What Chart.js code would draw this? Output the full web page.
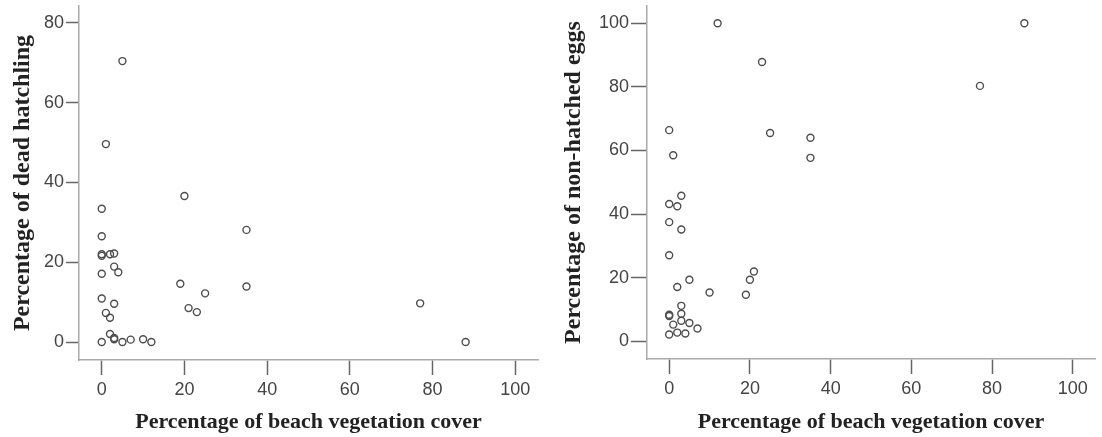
<!DOCTYPE html>
<html>
<head>
<meta charset="utf-8">
<script src="https://cdn.jsdelivr.net/npm/chart.js@4"></script>
<style>
  html, body { margin: 0; padding: 0; background: #fff; overflow: hidden; }
  .panel { position: absolute; top: 0; height: 437px; }
  #leftPanel { left: 0; width: 551px; }
  #rightPanel { left: 551px; width: 551px; }
</style>
</head>
<body>
<div class="panel" id="leftPanel"><canvas id="deadChart"></canvas></div>
<div class="panel" id="rightPanel"><canvas id="eggChart"></canvas></div>
<script>
// Left panel: vegetation cover vs dead hatchlings
const coverDead = [0, 0, 0, 0, 2, 3, 3, 4, 0, 0, 3, 1, 2, 2, 3, 3, 0, 5, 7, 10, 12, 20, 19, 21, 23, 25, 35, 35, 5, 1, 77, 88];
const deadHatchling = [33.4, 26.5, 22, 21.6, 22, 22.2, 18.9, 17.5, 17.1, 10.9, 9.6, 7.3, 6.1, 2, 0.7, 1, 0, 0, 0.6, 0.7, 0, 36.6, 14.6, 8.5, 7.5, 12.2, 28.1, 13.9, 70.4, 49.6, 9.7, 0];

// Right panel: vegetation cover vs non-hatched eggs
const coverEggs = [12, 23, 0, 1, 25, 35, 35, 3, 0, 2, 0, 3, 0, 5, 2, 10, 19, 20, 21, 3, 0, 0, 3, 3, 1, 5, 7, 0, 2, 4, 88, 77];
const nonHatched = [100, 87.8, 66.4, 58.5, 65.5, 64, 57.7, 45.8, 43.2, 42.5, 37.5, 35.2, 27.1, 19.4, 17.1, 15.4, 14.7, 19.4, 22, 11.2, 8.4, 8, 8.7, 6.5, 5.3, 5.8, 4.1, 2.2, 2.8, 2.5, 100, 80.3];

const xTicks = [0, 20, 40, 60, 80, 100];

const tickFont = { family: "'Liberation Sans', Arial, sans-serif", size: 18 };
const titleFontX = { family: "'Liberation Serif', 'Times New Roman', serif", size: 22, weight: 'bold' };
const titleFontY = { family: "'Liberation Serif', 'Times New Roman', serif", size: 24, weight: 'bold' };

function points(xs, ys) {
  return xs.map((x, i) => ({ x: x, y: ys[i] }));
}

function makeChart(id, xs, ys, yTitle, yMin, yMax, yWidth, yTick, padRight, xHeight) {
  new Chart(document.getElementById(id), {
    type: 'scatter',
    data: {
      datasets: [{
        data: points(xs, ys),
        pointStyle: 'circle',
        pointRadius: 3.5,
        pointHoverRadius: 3.5,
        pointBorderWidth: 1.4,
        borderColor: '#4d4d4d',
        backgroundColor: 'rgba(255,255,255,0)'
      }]
    },
    options: {
      responsive: true,
      maintainAspectRatio: false,
      animation: false,
      layout: { padding: { top: 6, right: padRight, bottom: 0, left: 0 } },
      plugins: { legend: { display: false }, tooltip: { enabled: false } },
      scales: {
        x: {
          type: 'linear',
          min: -5.5,
          max: 105.5,
          afterBuildTicks: s => { s.ticks = xTicks.map(v => ({ value: v })); },
          ticks: { font: tickFont, color: '#444', padding: 4, maxRotation: 0 },
          grid: { drawOnChartArea: false, tickLength: 15, tickColor: '#666', tickWidth: 1.5 },
          border: { color: '#aaa', width: 1.5 },
          title: { display: true, text: 'Percentage of beach vegetation cover', font: titleFontX, color: '#222', padding: { top: 0, bottom: 1 } },
          afterFit: s => { s.height = xHeight; s.paddingLeft = 0; s.paddingRight = 0; }
        },
        y: {
          type: 'linear',
          min: yMin,
          max: yMax,
          ticks: { stepSize: 20, includeBounds: false, font: tickFont, color: '#444', padding: 2 },
          grid: { drawOnChartArea: false, tickLength: yTick, tickColor: '#666', tickWidth: 1.5 },
          border: { color: '#aaa', width: 1.5 },
          title: { display: true, text: yTitle, font: titleFontY, color: '#222', padding: { top: 8, bottom: 0 } },
          afterFit: s => { s.width = yWidth; s.paddingTop = 0; s.paddingBottom = 0; }
        }
      }
    }
  });
}

makeChart('deadChart', coverDead, deadHatchling, 'Percentage of dead hatchling', -4.5, 84.2, 79, 13, 13, 77);
makeChart('eggChart', coverEggs, nonHatched, 'Percentage of non-hatched eggs', -5.5, 105.4, 96, 16, 7, 78);
</script>
</body>
</html>
